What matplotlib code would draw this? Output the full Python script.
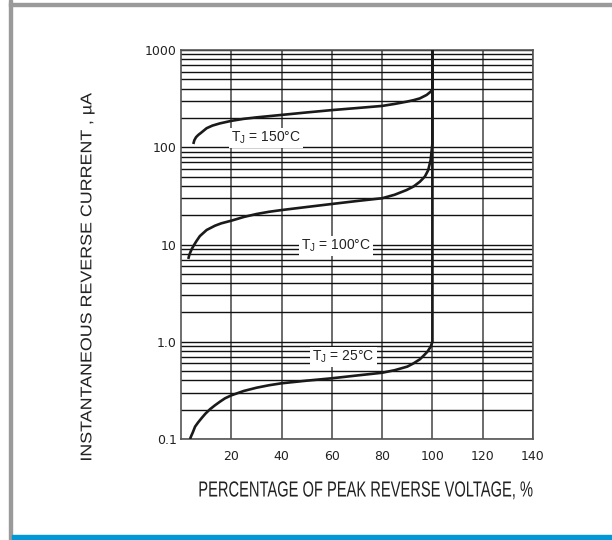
import matplotlib
matplotlib.use('Agg')
import matplotlib.pyplot as plt
from matplotlib.patches import Rectangle, PathPatch
from matplotlib.textpath import TextPath
from matplotlib.font_manager import FontProperties
from matplotlib.transforms import Affine2D

# curves, % of peak reverse voltage vs current (uA)
x_150 = [4.9, 5.3, 6.0, 6.9, 8.0, 10.2, 12.5, 15.5, 20.1, 25, 30.1, 40, 50, 60, 70, 80,
         85, 89.7, 92.5, 95, 97.7, 99.3, 100, 100]
y_150 = [108, 118, 127, 134, 141, 157, 167, 176, 187, 196, 203, 215, 228, 241, 253, 266,
         279, 294, 305, 318, 345, 373, 395, 1000]

x_100 = [2.9, 3.3, 3.7, 4.3, 5.2, 6.2, 7.5, 10.2, 13.5, 16, 20.1, 25, 30.1, 35, 40, 50, 60,
         70, 80, 85, 89.7, 92.5, 95, 97, 98.3, 99.3, 100, 100]
y_100 = [7.1, 7.8, 8.3, 9.0, 9.9, 10.9, 12.2, 14.1, 15.6, 16.5, 17.6, 19.2, 20.6, 21.7, 22.6,
         24.3, 26.1, 28, 29.9, 32.5, 36.3, 39.5, 44.2, 50, 58, 74, 110, 1000]

x_25 = [3.6, 4.1, 4.7, 5.6, 6.8, 8.2, 9.7, 11.5, 13.5, 15.5, 17.5, 20, 25, 30.1, 35, 40, 50,
        60, 70, 80, 85, 90, 92.5, 95, 96.5, 98, 99.3, 100, 100]
y_25 = [0.1, 0.108, 0.117, 0.134, 0.148, 0.164, 0.182, 0.202, 0.222, 0.242, 0.262, 0.281,
        0.312, 0.337, 0.357, 0.374, 0.398, 0.421, 0.45, 0.48, 0.51, 0.555, 0.6, 0.66, 0.72,
        0.79, 0.89, 1.0, 1000]

labels = ['T$_\\mathrm{J}$ = 150°C', 'T$_\\mathrm{J}$ = 100°C', 'T$_\\mathrm{J}$ = 25°C']
label_x = [33.8, 61.6, 64.6]
label_y = [124, 9.7, 0.70]

x_ticks = [20, 40, 60, 80, 100, 120, 140]
y_ticks = [0.1, 1, 10, 100, 1000]
y_tick_labels = ['0.1', '1.0', '10', '100', '1000']

W, H = 612, 540

plt.rcParams['font.family'] = ['Liberation Sans', 'DejaVu Sans']
plt.rcParams['mathtext.fontset'] = 'custom'
plt.rcParams['mathtext.rm'] = 'Liberation Sans'


# text squeezed/stretched into a box given in pixels (the reference uses odd fonts)
def boxed_text(fig, s, cx, cy, width, cap, rotation=0, size=20, color='#222222'):
    fp = FontProperties(family='Liberation Sans')
    tp = TextPath((0, 0), s, size=size, prop=fp)
    cap_h = TextPath((0, 0), 'H', size=size, prop=fp).get_extents().height
    ext = tp.get_extents()
    tr = (Affine2D().translate(-(ext.x0 + ext.width / 2), -cap_h / 2)
          .scale(width / ext.width, cap / cap_h)
          .rotate_deg(rotation).translate(cx, H - cy))
    fig.patches.append(PathPatch(tp, transform=tr, facecolor=color, edgecolor='none'))


fig = plt.figure(figsize=(W / 100, H / 100), dpi=100)

# page frame: grey border and blue bar at the bottom
fig.patches.append(Rectangle((9 / W, 0), 3 / W, 1, transform=fig.transFigure,
                             color='#9a9a9a', zorder=0))
fig.patches.append(Rectangle((9 / W, 1 - 6 / H), 1, 3 / H, transform=fig.transFigure,
                             color='#9a9a9a', zorder=0))
fig.patches.append(Rectangle((12 / W, 0), 1, 5 / H, transform=fig.transFigure,
                             color='#0098d6', zorder=0))

ax = fig.add_axes([181 / W, 1 - 439 / H, 352 / W, 389 / H])
ax.set_yscale('log')
ax.set_xlim(0, 140)
ax.set_ylim(0.1, 1000)

ax.grid(True, which='major', axis='x', color='#444444', lw=1.1)
ax.grid(True, which='both', axis='y', color='#111111', lw=1.0)
for s in ax.spines.values():
    s.set_color('#555555')
    s.set_linewidth(1.2)

ax.set_xticks(x_ticks)
ax.set_yticks(y_ticks)
ax.set_yticklabels(y_tick_labels)
ax.tick_params(which='both', length=0, labelsize=9, pad=3)
for t in ax.get_xticklabels() + ax.get_yticklabels():
    t.set_fontfamily('DejaVu Sans')
    t.set_color('#222222')
ax.tick_params(axis='x', pad=8)

for xs, ys in [(x_150, y_150), (x_100, y_100), (x_25, y_25)]:
    ax.plot(xs, ys, color='#1a1a1a', lw=1.9, solid_capstyle='butt',
            solid_joinstyle='round', zorder=3)

for txt, lx, ly in zip(labels, label_x, label_y):
    ax.text(lx, ly, txt, ha='center', va='center', fontsize=10, color='#222222', zorder=4,
            bbox=dict(facecolor='white', edgecolor='none', pad=1.5))

boxed_text(fig, 'INSTANTANEOUS REVERSE CURRENT , µA', 86, 276.5, 367, 10.7, rotation=90)
boxed_text(fig, 'PERCENTAGE OF PEAK REVERSE VOLTAGE, %', 366, 489, 333, 15)

fig.savefig('out.png', dpi=100)
